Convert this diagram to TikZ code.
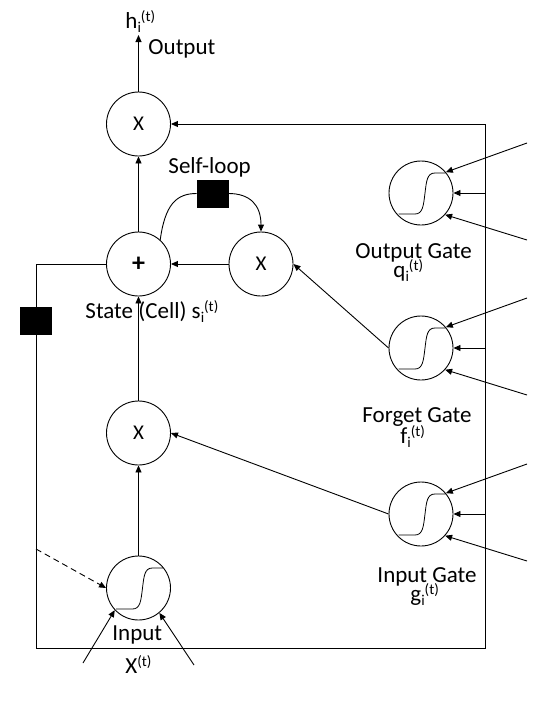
\documentclass[tikz,border=0pt]{standalone}
\usepackage{fontspec}
\setmainfont{Carlito}
\usetikzlibrary{arrows.meta}
\newcommand\subsup[2]{\smash{\raisebox{-4pt}{\fontsize{15}{15}\selectfont #1}\raisebox{7pt}{\fontsize{15}{15}\selectfont #2}}}
\newcommand\sigm[1]{\draw[sig,shift={(#1.center)}] (-22.5,21) -- (-6,21) .. controls (2,21) and (2.5,12) .. (4,0) .. controls (5.5,-12) and (6,-20) .. (14,-20) -- (24.5,-20);}
\begin{document}
\begin{tikzpicture}[x=1pt,y=-1pt,
  line width=0.9pt,
  op/.style={circle,draw,minimum size=64pt,inner sep=0pt,font=\fontsize{21}{21}\selectfont},
  gate/.style={circle,draw,minimum size=64pt,inner sep=0pt},
  blk/.style={draw,fill=black,minimum width=31pt,minimum height=27pt,inner sep=0pt},
  lbl/.style={anchor=base west,inner sep=0pt,font=\fontsize{23}{23}\selectfont},
  arr/.style={-{Triangle[length=7pt,width=6pt]}},
  sig/.style={line width=0.8pt}
]
\useasboundingbox (0,0) rectangle (537,720);
% operation circles
\node[op] (topX) at (138.5,124) {X};
\node[op,font=\fontsize{26}{26}\selectfont\bfseries] (plus) at (138.5,264) {+};
\node[op] (selfX) at (261,264) {X};
\node[op] (lowX) at (138.5,433) {X};
% sigmoid units
\node[gate] (inp) at (138.5,588) {};
\node[gate] (og) at (421,193) {};
\node[gate] (fg) at (421,348) {};
\node[gate] (ig) at (421,514) {};
\sigm{inp}\sigm{og}\sigm{fg}\sigm{ig}
% delay squares
\node[blk] (sq) at (212.5,193.5) {};
\node[blk] (lsq) at (36,321) {};
% frame coordinates
\coordinate (TR) at (485,124);
\coordinate (BR) at (485,648);
\coordinate (BL) at (36,648);
\coordinate (LT) at (36,264);
\coordinate (DL) at (36,549);
\coordinate (hout) at (138.5,35);
\coordinate (xa) at (83,663);
\coordinate (xb) at (194,665);
% frame
\draw[arr] (TR) -- (topX.east);
\draw (TR) -- (BR) -- (BL) -- (lsq.south);
\draw (lsq.north) -- (LT) -- (plus.west);
\draw[arr,dash pattern=on 6pt off 4pt] (DL) -- (inp.west);
% vertical chain
\draw[arr] (topX.north) -- (hout);
\draw[arr] (plus.north) -- (topX.south);
\draw[arr] (lowX.north) -- (plus.south);
\draw[arr] (inp.north) -- (lowX.south);
\draw[arr] (xa) -- (inp.223);
\draw[arr] (xb) -- (inp.-50);
% self loop
\draw (plus.48) .. controls (165,205) and (176,193.5) .. (sq.west);
\draw[arr] (sq.east) .. controls (250,193.5) and (261,205) .. (selfX.north);
\draw[arr] (selfX.west) -- (plus.east);
% gates to operations
\draw[arr] (fg.west) -- (selfX.east);
\draw[arr] (ig.west) -- (lowX.east);
% gate inputs
\foreach \g/\cy in {og/193,fg/348,ig/514}{
  \coordinate (\g A) at (527,\cy-50);
  \coordinate (\g B) at (527,\cy+47);
  \coordinate (\g R) at (485,\cy);
  \draw[arr] (\g A) -- (\g.40);
  \draw[arr] (\g R) -- (\g.east);
  \draw[arr] (\g B) -- (\g.-42);
}
% labels
\node[lbl] (lh) at (125,28) {h\subsup{i}{(t)}};
\node[lbl] (lout) at (148,54) {Output};
\node[lbl] (lself) at (168,173) {Self-loop};
\node[lbl] (lstate) at (85,318) {State (Cell) s\subsup{i}{(t)}};
\node[lbl] (log) at (355,258) {Output Gate};
\node[lbl] (lq) at (393,277) {q\subsup{i}{(t)}};
\node[lbl] (lfg) at (362,422) {Forget Gate};
\node[lbl] (lf) at (400,443) {f\subsup{i}{(t)}};
\node[lbl] (lig) at (377,582) {Input Gate};
\node[lbl] (lg) at (410,601) {g\subsup{i}{(t)}};
\node[lbl] (linp) at (112,640) {Input};
\node[lbl] (lx) at (125,673) {X\smash{\raisebox{7pt}{\fontsize{15}{15}\selectfont (t)}}};
\end{tikzpicture}
\end{document}
